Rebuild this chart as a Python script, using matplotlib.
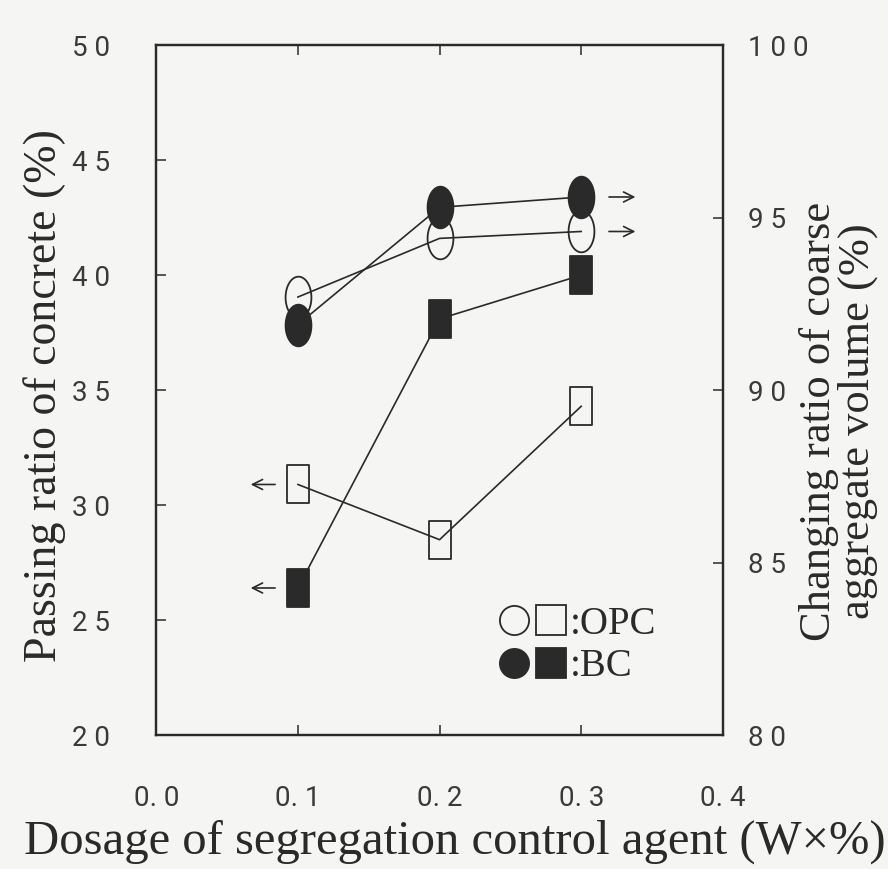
import matplotlib
matplotlib.use("Agg")
import matplotlib.pyplot as plt
import matplotlib.transforms as mtrans
from matplotlib.path import Path
from matplotlib.lines import Line2D
from matplotlib.legend_handler import HandlerTuple
import numpy as np

# ---- data ----
dosage = [0.1, 0.2, 0.3]
passing_opc = [30.9, 28.5, 34.3]      # open squares, left axis
passing_bc = [26.4, 38.1, 40.0]       # filled squares, left axis
coarse_opc = [92.7, 94.4, 94.6]       # open circles, right axis
coarse_bc = [91.9, 95.3, 95.6]        # filled circles, right axis

x_ticks = [0.0, 0.1, 0.2, 0.3, 0.4]
x_ticklabels = ["0. 0", "0. 1", "0. 2", "0. 3", "0. 4"]
left_ticks = [20, 25, 30, 35, 40, 45, 50]
left_ticklabels = ["2 0", "2 5", "3 0", "3 5", "4 0", "4 5", "5 0"]
right_ticks = [80, 85, 90, 95, 100]
right_ticklabels = ["8 0", "8 5", "9 0", "9 5", "1 0 0"]

xlabel = "Dosage of segregation control agent (W\u00d7%)"
ylabel_left = "Passing ratio of concrete (%)"
ylabel_right = "Changing ratio of coarse\naggregate volume (%)"
legend_labels = [":OPC", ":BC"]

# ---- styles ----
ink = "#2a2a2a"
bg = "#f5f5f4"
serif = ["Liberation Serif", "DejaVu Serif"]
tickfont = ["Roboto", "DejaVu Sans"]
tickcolor = "#3a3a3a"
tick_fs = 20

# tall elliptical / rectangular markers (scan is vertically stretched)
t = np.linspace(0, 2 * np.pi, 60)
ellipse = Path(np.column_stack([0.62 * np.cos(t), np.sin(t)]), closed=True)
rect = Path([(-0.56, -1), (0.56, -1), (0.56, 1), (-0.56, 1), (-0.56, -1)], closed=True)

fig = plt.figure(figsize=(8.88, 8.69), dpi=100, facecolor=bg)
ax = fig.add_axes([0.176, 0.154, 0.638, 0.794])
ax.set_facecolor(bg)
ax2 = ax.twinx()

ax.set_xlim(0.0, 0.4)
ax.set_ylim(20, 50)
ax2.set_ylim(80, 100)

lw = 1.2
ax.plot(dosage, passing_opc, color=ink, lw=lw, marker=rect, ms=27,
        mfc="none", mec=ink, mew=1.3, zorder=3)
ax.plot(dosage, passing_bc, color=ink, lw=lw, marker=rect, ms=27,
        mfc=ink, mec=ink, mew=1.3, zorder=3)
ax2.plot(dosage, coarse_opc, color=ink, lw=lw, marker=ellipse, ms=30,
         mfc="none", mec=ink, mew=1.3, zorder=3)
ax2.plot(dosage, coarse_bc, color=ink, lw=lw, marker=ellipse, ms=30,
         mfc=ink, mec=ink, mew=1.3, zorder=3)

# arrows indicating which axis each series uses
arrow_kw = dict(arrowstyle="->", lw=1.2, color=ink, mutation_scale=18)
for v in (passing_opc[0], passing_bc[0]):
    head = ax.transData + mtrans.ScaledTranslation(-0.50, 0, fig.dpi_scale_trans)
    tail = ax.transData + mtrans.ScaledTranslation(-0.20, 0, fig.dpi_scale_trans)
    ax.annotate("", xy=(dosage[0], v), xycoords=head,
                xytext=(dosage[0], v), textcoords=tail,
                arrowprops=dict(arrow_kw))
for v in (coarse_bc[2], coarse_opc[2]):
    head = ax2.transData + mtrans.ScaledTranslation(0.57, 0, fig.dpi_scale_trans)
    tail = ax2.transData + mtrans.ScaledTranslation(0.25, 0, fig.dpi_scale_trans)
    ax2.annotate("", xy=(dosage[2], v), xycoords=head,
                 xytext=(dosage[2], v), textcoords=tail,
                 arrowprops=dict(arrow_kw))

# ticks
ax.set_xticks(x_ticks)
ax.set_xticklabels(x_ticklabels, family=tickfont, fontsize=tick_fs, color=tickcolor)
ax.set_yticks(left_ticks)
ax.set_yticklabels(left_ticklabels, family=tickfont, fontsize=tick_fs, color=tickcolor)
ax2.set_yticks(right_ticks)
ax2.set_yticklabels(right_ticklabels, family=tickfont, fontsize=tick_fs, color=tickcolor)
ax.tick_params(axis="x", direction="in", length=7, width=1.1, color=ink, pad=36,
               top=True)
ax.tick_params(axis="y", direction="in", length=7, width=1.1, color=ink, pad=33)
ax2.tick_params(axis="y", direction="in", length=7, width=1.1, color=ink, pad=18)
for a in (ax, ax2):
    for s in a.spines.values():
        s.set_color(ink)
        s.set_linewidth(1.6)

# axis titles
fig.text(0.512, 0.031, xlabel, family=serif, fontsize=35, color=ink,
         ha="center", va="center")
fig.text(0.050, 0.545, ylabel_left, family=serif, fontsize=33, color=ink,
         ha="center", va="center", rotation=90)
fig.text(0.944, 0.515, ylabel_right, family=serif, fontsize=32, color=ink,
         ha="center", va="center", rotation=90, linespacing=0.95)

# legend
h_oc = Line2D([], [], ls="none", marker="o", ms=21, mfc="none", mec=ink, mew=1.3)
h_os = Line2D([], [], ls="none", marker="s", ms=21, mfc="none", mec=ink, mew=1.3)
h_bc = Line2D([], [], ls="none", marker="o", ms=21, mfc=ink, mec=ink, mew=1.3)
h_bs = Line2D([], [], ls="none", marker="s", ms=21, mfc=ink, mec=ink, mew=1.3)
leg = ax2.legend([(h_oc, h_os), (h_bc, h_bs)], legend_labels,
                 handler_map={tuple: HandlerTuple(ndivide=None, pad=0)},
                 loc="center left", bbox_to_anchor=(0.565, 0.13),
                 frameon=False, handlelength=1.9, handletextpad=0.0,
                 labelspacing=0.15, borderpad=0,
                 prop={"family": serif, "size": 28})
for txt in leg.get_texts():
    txt.set_color(ink)

fig.savefig("out.png", dpi=100, facecolor=bg)
